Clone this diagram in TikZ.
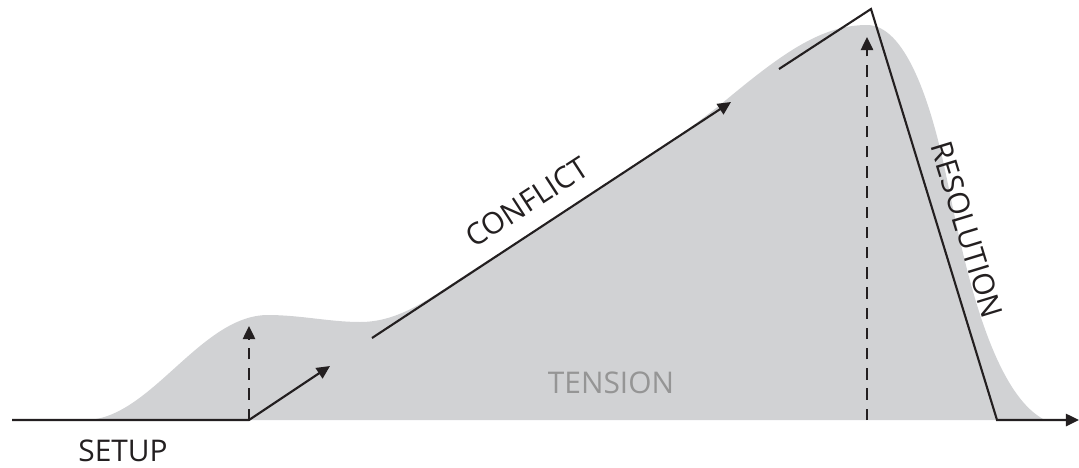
\documentclass[tikz,border=0pt]{standalone}
\usepackage{xcolor}
\usepackage{tikz}
\usepackage{fontspec}
\setmainfont{Open Sans}
\usetikzlibrary{
arrows.meta,
positioning
}
\definecolor{inkline}{HTML}{231F20}
\definecolor{tensionfill}{HTML}{D1D2D4}
\definecolor{tensiontext}{HTML}{959595}

\begin{document}
\begin{tikzpicture}[
x=0.02cm, y=-0.02cm,
arc/.style={
draw=inkline,
line width=1.2pt,
-{Triangle[length=7.5pt,width=7pt]}
},
riseline/.style={
arc,
dash pattern=on 6.5pt off 5pt
},
label/.style={
font=\fontsize{17}{19}\selectfont,
text=inkline,
inner sep=0pt
}
]
\useasboundingbox (0,0) rectangle (1079,467);

% tension area
\fill[tensionfill] (85,420)
.. controls (150,420) and (200,315) .. (268,315)
.. controls (300,315) and (330,322) .. (360,322)
.. controls (400,322) and (430,298) .. (470,272)
.. controls (570,207) and (650,160) .. (720,105)
.. controls (780,55) and (820,25) .. (867,25)
.. controls (905,25) and (930,100) .. (945,170)
.. controls (958,230) and (985,390) .. (1045,420)
-- cycle;

\coordinate (start) at (12,420);
\coordinate (incite) at (249,420);
\coordinate (setupend) at (330,366);
\coordinate (bump) at (249,326);
\coordinate (conflictstart) at (372,338);
\coordinate (conflictend) at (731,102);
\coordinate (climbstart) at (779,69);
\coordinate (peak) at (871,9);
\coordinate (peakbase) at (867,420);
\coordinate (peaktop) at (867,37);
\coordinate (fall) at (997,420);
\coordinate (finish) at (1079,420);

\draw[arc] (start) -- (incite) -- (setupend);
\draw[riseline] (incite) -- (bump);
\draw[arc] (conflictstart) -- (conflictend);
\draw[arc, line join=miter] (climbstart) -- (peak) -- (fall) -- (finish);
\draw[riseline] (peakbase) -- (peaktop);

\node[label] (setup) at (123,451) {SETUP};
\node[label, text=tensiontext] (tension) at (611,383) {TENSION};
\node[label, rotate=33] (conflict) at (527,202) {CONFLICT};
\node[label, rotate=-73] (resolution) at (967,230) {RESOLUTION};

\end{tikzpicture}
\end{document}
